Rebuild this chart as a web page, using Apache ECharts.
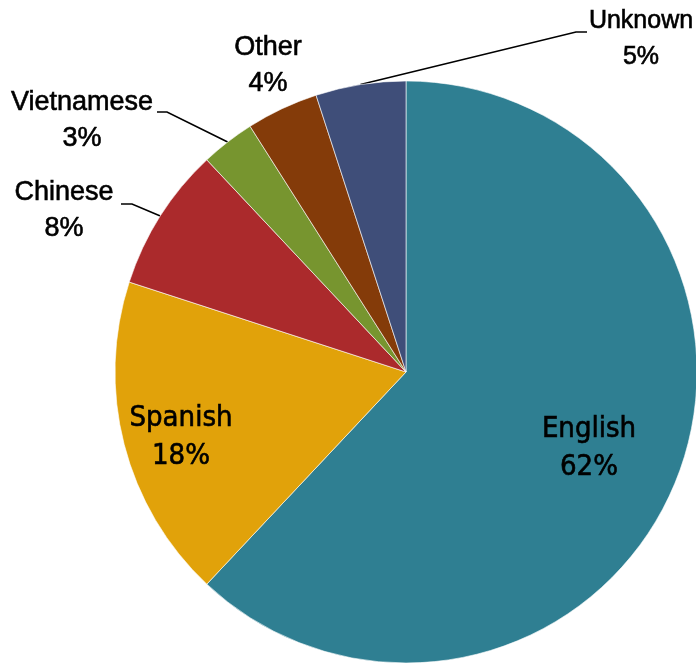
<!DOCTYPE html>
<html>
<head>
<meta charset="utf-8">
<script src="https://cdn.jsdelivr.net/npm/echarts@6/dist/echarts.min.js"></script>
<style>
  html, body { margin: 0; padding: 0; background: #fff; }
  #chart { width: 696px; height: 664px; }
</style>
</head>
<body>
<div id="chart"></div>
<script>
// Languages spoken at home, share of total (%)
const languages = ['English', 'Spanish', 'Chinese', 'Vietnamese', 'Other', 'Unknown'];
const shares = [62, 18, 8, 3, 4, 5];
const colors = ['#2f7f92', '#e1a20a', '#ab2a2c', '#77952f', '#843b09', '#3f4e79'];

// Where each label block sits, and the bend of its leader line (if any)
const labelSpots = {
  English:    { x: 589, y: 448, inside: true },
  Spanish:    { x: 181, y: 437, inside: true },
  Chinese:    { x: 64,  y: 211, bend: [[132, 204], [121, 204]] },
  Vietnamese: { x: 82,  y: 121, bend: [[167, 112], [157, 112]] },
  Other:      { x: 268, y: 66 },
  Unknown:    { x: 641, y: 39,  size: 25, bend: [[576, 32], [587, 32]] }
};

const outerFont = '"Liberation Sans", Arial, sans-serif';
const innerFont = '"DejaVu Sans Condensed", "DejaVu Sans", sans-serif';

const data = languages.map((name, i) => {
  const spot = labelSpots[name];
  return {
    name: name,
    value: shares[i],
    itemStyle: { color: colors[i] },
    label: spot.inside
      ? { fontFamily: innerFont, fontSize: 29, lineHeight: 38 }
      : { fontFamily: outerFont, fontSize: spot.size || 27, lineHeight: 36 },
    labelLine: { show: !!spot.bend }
  };
});

const chart = echarts.init(document.getElementById('chart'), null, { renderer: 'canvas' });
chart.setOption({
  animation: false,
  series: [{
    type: 'pie',
    center: [406, 372],
    radius: [0, 291],
    startAngle: 90,
    clockwise: true,
    avoidLabelOverlap: false,
    itemStyle: { borderColor: '#ffffff', borderWidth: 0.6 },
    label: {
      show: true,
      position: 'outside',
      formatter: '{b}\n{c}%',
      color: '#000',
      textBorderColor: '#000',
      textBorderWidth: 0.6,
      align: 'center'
    },
    labelLine: {
      show: true,
      length: 10,
      length2: 10,
      lineStyle: { color: '#000', width: 1.6 }
    },
    labelLayout: function (params) {
      const name = languages[params.dataIndex];
      const spot = labelSpots[name];
      const out = { x: spot.x, y: spot.y, align: 'center', verticalAlign: 'middle' };
      if (spot.bend && params.labelLinePoints) {
        out.labelLinePoints = [params.labelLinePoints[0], spot.bend[0], spot.bend[1]];
      }
      return out;
    },
    emphasis: { disabled: true },
    data: data
  }]
});
</script>
</body>
</html>
